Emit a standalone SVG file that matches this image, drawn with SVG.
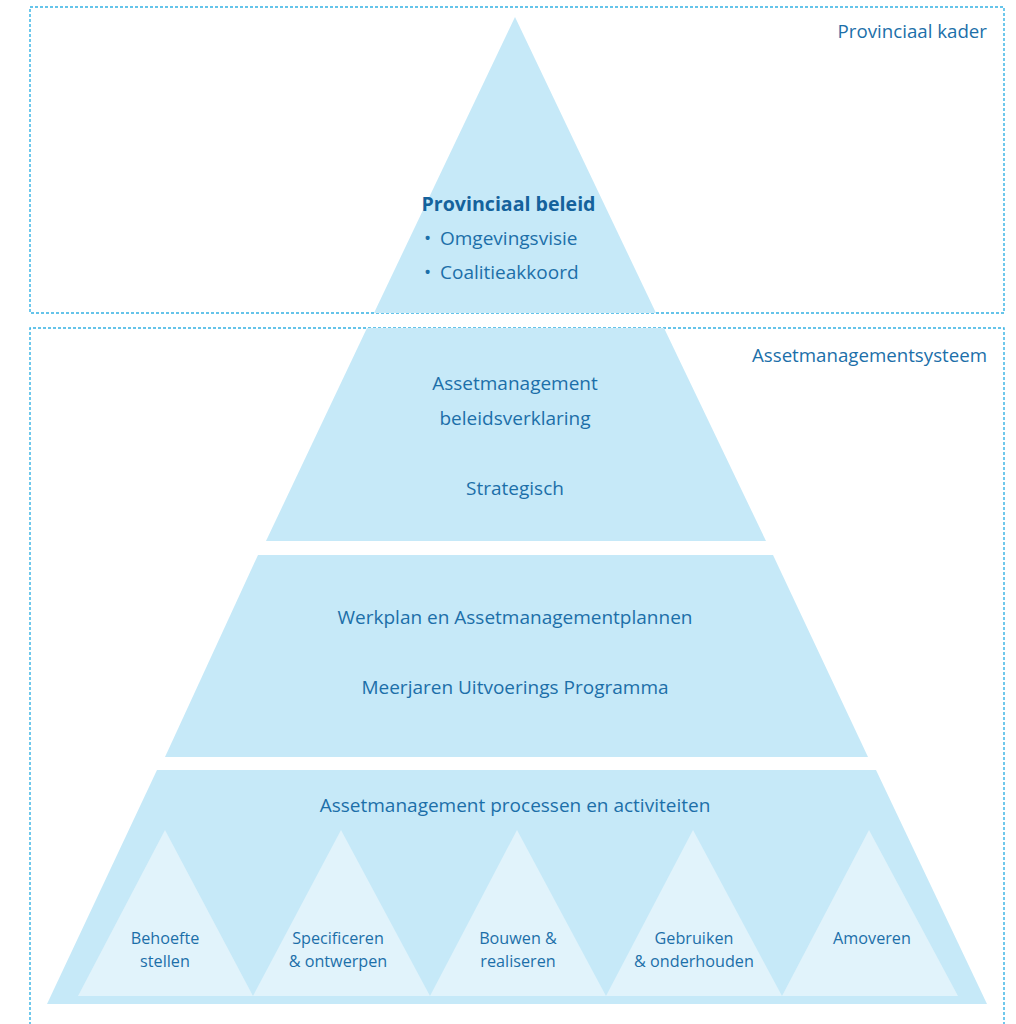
<svg xmlns="http://www.w3.org/2000/svg" width="1016" height="1024" viewBox="0 0 1016 1024">
  <style>
    .frame { fill: none; stroke: #33b1e4; stroke-width: 1.4; stroke-dasharray: 3 2; }
    .tier { fill: #c6e9f8; }
    .step { fill: #e1f3fb; }
    text { font-family: "Open Sans", "Noto Sans", "Liberation Sans", sans-serif; fill: #1c6fa9; }
    .lbl { font-size: 18.7px; text-anchor: end; }
    .mid { font-size: 19px; text-anchor: middle; }
    .small { font-size: 16.2px; text-anchor: middle; }
    .head { font-size: 19.6px; font-weight: bold; text-anchor: middle; fill: #15629c; }
    .item { font-size: 19px; }
  </style>
  <rect width="1016" height="1024" fill="#ffffff"/>

  <!-- framing boxes -->
  <g id="frames">
    <rect class="frame" x="30" y="7" width="974" height="306"/>
    <path class="frame" d="M30 1030 V328 H1004 V1030"/>
    <text class="lbl" x="987" y="38">Provinciaal kader</text>
    <text class="lbl" x="987" y="362">Assetmanagementsysteem</text>
  </g>

  <!-- top of the pyramid: provincial policy -->
  <g id="provinciaal-beleid">
    <polygon class="tier" points="515,17 656,313 374,313"/>
    <text class="head" x="508.5" y="211">Provinciaal beleid</text>
    <text class="item" x="424" y="245">•</text>
    <text class="item" x="440" y="245">Omgevingsvisie</text>
    <text class="item" x="424" y="279">•</text>
    <text class="item" x="440" y="279">Coalitieakkoord</text>
  </g>

  <!-- strategic tier -->
  <g id="strategisch">
    <polygon class="tier" points="367,328 664,328 766,541 266,541"/>
    <text class="mid" x="515" y="390">Assetmanagement</text>
    <text class="mid" x="515" y="425">beleidsverklaring</text>
    <text class="mid" x="515" y="495">Strategisch</text>
  </g>

  <!-- tactical tier -->
  <g id="tactisch">
    <polygon class="tier" points="258,555 773,555 868,757 165,757"/>
    <text class="mid" x="515" y="624">Werkplan en Assetmanagementplannen</text>
    <text class="mid" x="515" y="694">Meerjaren Uitvoerings Programma</text>
  </g>

  <!-- operational tier with the lifecycle steps -->
  <g id="operationeel">
    <polygon class="tier" points="157,770 876,770 987,1004 47,1004"/>
    <text class="mid" x="515" y="812">Assetmanagement processen en activiteiten</text>
  </g>

  <g id="behoefte-stellen">
    <polygon class="step" points="165,830 253,996 78,996"/>
    <text class="small" x="165" y="944">Behoefte</text>
    <text class="small" x="165" y="967">stellen</text>
  </g>
  <g id="specificeren-ontwerpen">
    <polygon class="step" points="341,830 430,996 253,996"/>
    <text class="small" x="338" y="944">Specificeren</text>
    <text class="small" x="338" y="967">&amp; ontwerpen</text>
  </g>
  <g id="bouwen-realiseren">
    <polygon class="step" points="517,830 606,996 430,996"/>
    <text class="small" x="518" y="944">Bouwen &amp;</text>
    <text class="small" x="518" y="967">realiseren</text>
  </g>
  <g id="gebruiken-onderhouden">
    <polygon class="step" points="693,830 782,996 606,996"/>
    <text class="small" x="694" y="944">Gebruiken</text>
    <text class="small" x="694" y="967">&amp; onderhouden</text>
  </g>
  <g id="amoveren">
    <polygon class="step" points="869,830 958,996 782,996"/>
    <text class="small" x="872" y="944">Amoveren</text>
  </g>

  <g id="connectors"/>
</svg>
